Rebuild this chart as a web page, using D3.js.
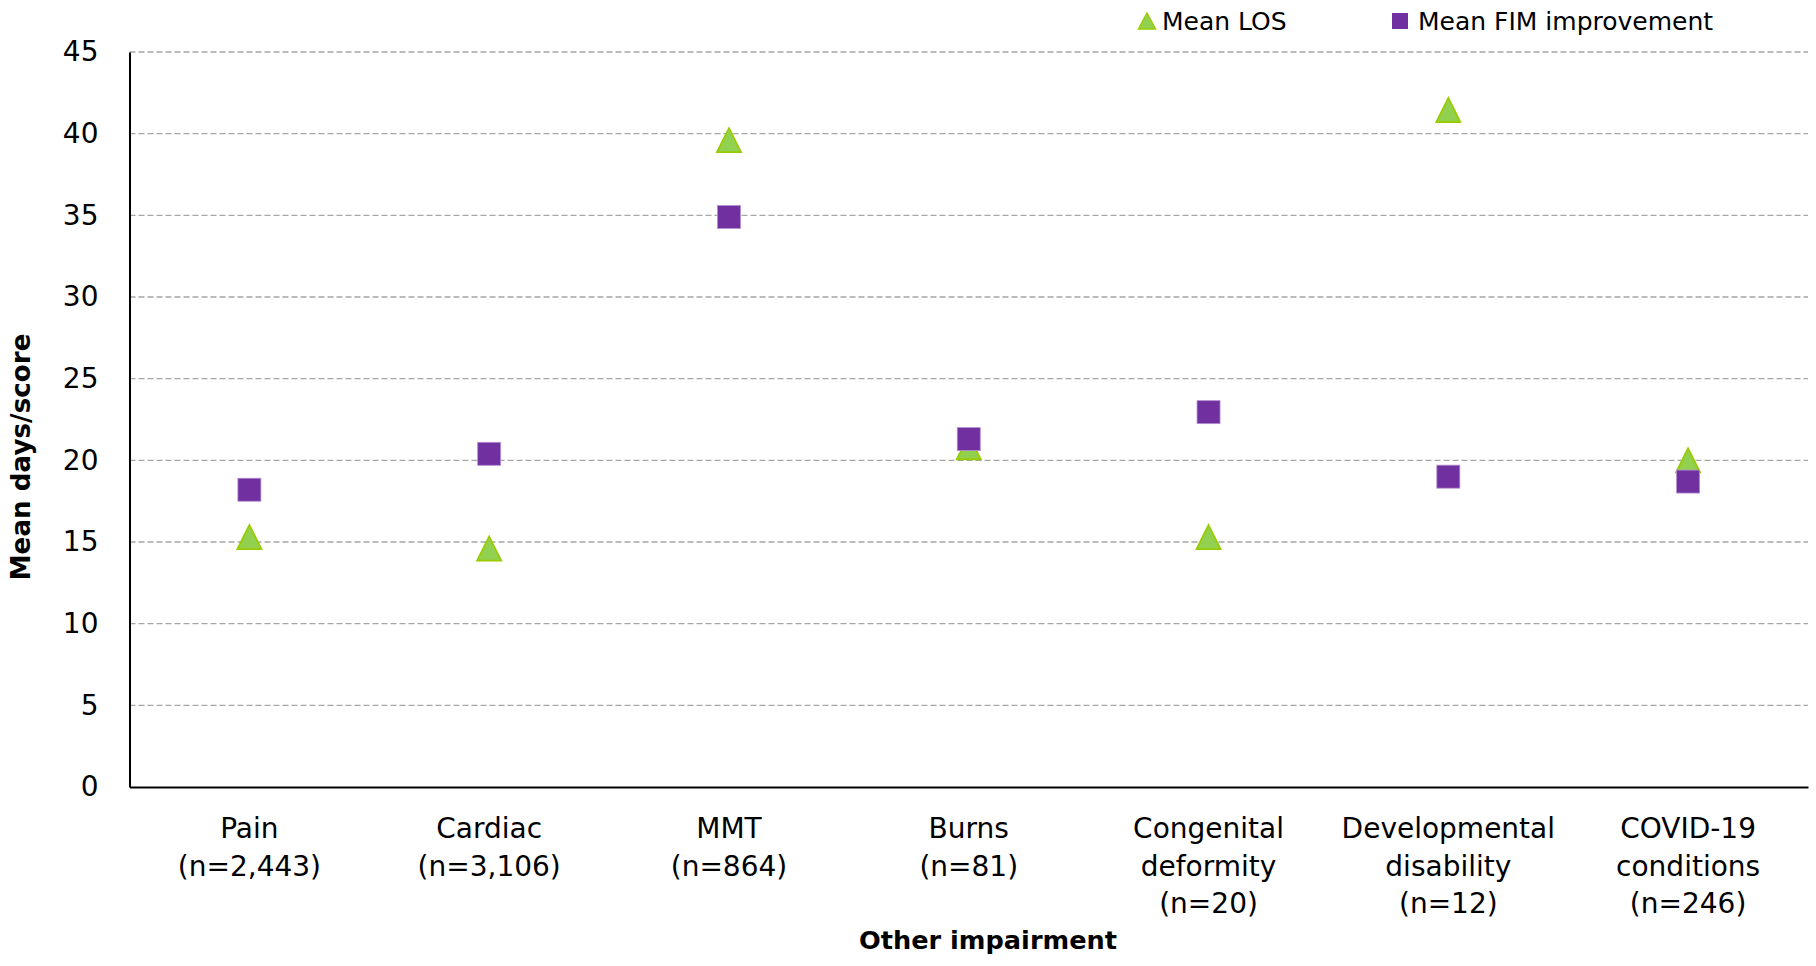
<!DOCTYPE html>
<html><head><meta charset="utf-8">
<script src="https://cdn.jsdelivr.net/npm/d3@7"></script>
<style>
html,body{margin:0;padding:0;background:#fff;}
svg text{font-family:"DejaVu Sans",Lato,sans-serif;fill:#000;}
</style></head>
<body><svg id="c" width="1816" height="966"></svg>
<script>
const categories = ["Pain\n(n=2,443)","Cardiac\n(n=3,106)","MMT\n(n=864)","Burns\n(n=81)","Congenital\ndeformity\n(n=20)","Developmental\ndisability\n(n=12)","COVID-19\nconditions\n(n=246)"];
const meanLOS = [15.3, 14.6, 39.6, 20.8, 15.3, 41.45, 20.0];
const meanFIM = [18.2, 20.4, 34.9, 21.3, 22.95, 19.0, 18.7];
const yTicks = [0,5,10,15,20,25,30,35,40,45];
const seriesNames = ["Mean LOS","Mean FIM improvement"];

(function(){
const svg = d3.select("#c");
const mL = 129.5, mR = 1808, mT = 52, mB = 787;
const x = d3.scaleBand().domain(categories).range([mL, mR]);
const y = d3.scaleLinear().domain([0,45]).range([mB, mT]);
const fs = 28;
const FF = '"DejaVu Sans", Lato, sans-serif';

// gridlines
svg.append("g").selectAll("line").data(yTicks.filter(d=>d>0)).join("line")
  .attr("x1", mL).attr("x2", mR)
  .attr("y1", d=>y(d)).attr("y2", d=>y(d))
  .attr("stroke", "#a6a6a6").attr("stroke-width", 1.3).attr("stroke-dasharray", "6,3");

// y axis
const yAxis = d3.axisLeft(y).tickValues(yTicks).tickSize(0).tickPadding(31);
const gy = svg.append("g").attr("transform", `translate(${mL},0)`).call(yAxis);
gy.select(".domain").attr("stroke", "#000").attr("stroke-width", 2);
gy.selectAll("text").style("font-size", fs+"px").style("font-family", FF).attr("fill","#000");

// x axis
const xAxis = d3.axisBottom(x).tickSize(0).tickFormat("");
const gx = svg.append("g").attr("transform", `translate(0,${mB})`).call(xAxis);
gx.select(".domain").attr("stroke", "#000").attr("stroke-width", 2);
gx.selectAll(".tick").each(function(d){
  const lines = d.split("\n");
  const t = d3.select(this).append("text").attr("text-anchor","middle")
    .style("font-size", fs+"px").style("font-family", FF).attr("fill","#000");
  lines.forEach((l,i)=>{
    t.append("tspan").attr("x",0).attr("y", 51 + i*37.6).text(l);
  });
});

// axis titles
svg.append("text").attr("x", 988).attr("y", 949).attr("text-anchor","middle")
  .style("font-size", "25.6px").style("font-weight","bold").text("Other impairment");
svg.append("text").attr("transform","translate(30,457) rotate(-90)").attr("text-anchor","middle")
  .style("font-size", "26.2px").style("font-weight","bold").text("Mean days/score");

const cx = (d,i)=> x(categories[i]) + x.bandwidth()/2;
const tri = (cxv, cyv, w, h) => `M${cxv},${cyv-h/2}L${cxv+w/2},${cyv+h/2}L${cxv-w/2},${cyv+h/2}Z`;

// triangles (Mean LOS)
svg.append("g").selectAll("path").data(meanLOS).join("path")
  .attr("d", (d,i)=>tri(cx(d,i), y(d), 24, 24))
  .attr("fill", "#92d050").attr("stroke", "#99cc00").attr("stroke-width", 1.8);

// squares (Mean FIM)
const sq = 23;
svg.append("g").selectAll("rect").data(meanFIM).join("rect")
  .attr("x", (d,i)=>cx(d,i)-sq/2).attr("y", d=>y(d)-sq/2)
  .attr("width", sq).attr("height", sq)
  .attr("fill", "#7030a0").attr("stroke", "#b58fd0").attr("stroke-width", 0.8);

// legend
const lg = svg.append("g");
lg.append("path").attr("d", tri(1147, 21, 17, 16)).attr("fill","#92d050").attr("stroke","#99cc00").attr("stroke-width",1.5);
lg.append("text").attr("x", 1162).attr("y", 21).attr("dy","0.35em").style("font-size", "25px").text(seriesNames[0]);
lg.append("rect").attr("x", 1400-8).attr("y", 21-8).attr("width",16).attr("height",16).attr("fill","#7030a0");
lg.append("text").attr("x", 1418).attr("y", 21).attr("dy","0.35em").style("font-size", "25px").text(seriesNames[1]);
})();
</script></body></html>
